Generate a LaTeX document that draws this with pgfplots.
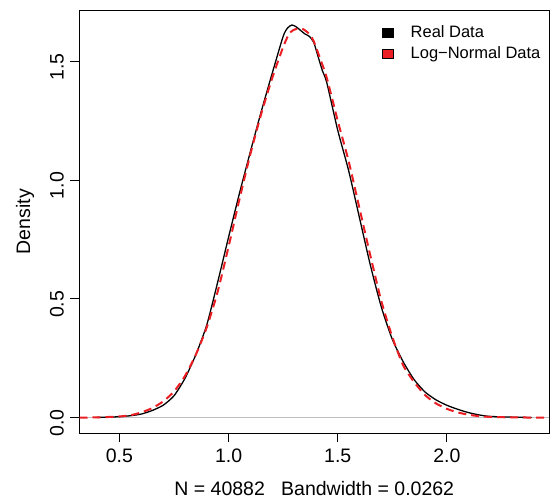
\documentclass[border=0pt]{standalone}
\usepackage{fontspec}
\setmainfont{Liberation Sans}
\usepackage{pgfplots}
\pgfplotsset{compat=1.18}
\definecolor{rred}{RGB}{235,30,35}
\definecolor{zgray}{RGB}{190,190,190}

\begin{document}
\fontsize{19.5}{23}\selectfont
\begin{tikzpicture}
\useasboundingbox (0,0) rectangle (553pt,499pt);
\begin{axis}[
    at={(79.5pt,65.7pt)}, anchor=south west,
    scale only axis, width=469.5pt, height=423.3pt,
    xmin=0.317, xmax=2.468, ymin=-0.066, ymax=1.716,
    axis line style={line width=1pt},
    xtick={0.5,1,1.5,2}, ytick={0,0.5,1,1.5},
    tick pos=left, tick align=outside, major tick length=9pt,
    tick style={black, line width=1pt},
    yticklabel style={rotate=90, anchor=south, xshift=-5.5pt},
    xlabel={N = 40882\ \ \ Bandwidth = 0.0262},
    ylabel={Density},
    every axis x label/.style={at={(axis description cs:0.5,0)}, anchor=base, yshift=-61.7pt},
    every axis y label/.style={at={(axis description cs:0,0.5)}, xshift=-49.5pt, rotate=90, anchor=base},
    legend cell align=left,
    legend style={at={(rel axis cs:0.644,0.969)}, anchor=north west, draw=none, fill=none,
        font=\fontsize{16.5}{19}\selectfont, row sep=2pt, inner sep=0pt,
        /tikz/every odd column/.append style={column sep=15pt}},
    /pgf/number format/fixed, /pgf/number format/fixed zerofill,
    /pgf/number format/precision=1, /pgf/number format/assume math mode=true,
]
\addplot[zgray, line width=1pt, forget plot] coordinates {(0.317,0) (2.468,0)};

% real data density
\addplot[black, line width=1.3pt, smooth, tension=0.4,
    legend image code/.code={\draw[solid, black, fill=black, line width=0.5pt] (0pt,-4.3pt) rectangle (11pt,4.3pt);}]
coordinates {
(0.397,0.001) (0.45,0.002) (0.50,0.004) (0.55,0.008) (0.60,0.015) (0.65,0.030)
(0.70,0.052) (0.75,0.092) (0.80,0.165) (0.85,0.265) (0.90,0.39) (0.95,0.57)
(1.00,0.76) (1.05,0.945) (1.10,1.12) (1.15,1.29) (1.20,1.45) (1.25,1.605)
(1.27,1.64) (1.29,1.653) (1.31,1.645) (1.33,1.63) (1.35,1.615) (1.37,1.605)
(1.39,1.58) (1.41,1.52) (1.43,1.46) (1.45,1.41) (1.50,1.21) (1.55,1.04)
(1.60,0.84) (1.65,0.64) (1.70,0.465) (1.75,0.33) (1.80,0.235) (1.85,0.16)
(1.90,0.108) (1.95,0.075) (2.00,0.052) (2.05,0.035) (2.10,0.021) (2.15,0.011)
(2.20,0.005) (2.30,0.002) (2.388,0.0005)
};
\addlegendentry{Real Data}

% log-normal density
\addplot[rred, line width=2pt, dash pattern=on 8pt off 5pt, smooth, tension=0.4,
    legend image code/.code={\draw[solid, draw=black, fill=rred, line width=0.6pt] (0pt,-4.3pt) rectangle (11pt,4.3pt);}]
coordinates {
(0.317,0.000) (0.40,0.001) (0.50,0.005) (0.55,0.010) (0.60,0.022) (0.65,0.040)
(0.70,0.068) (0.75,0.110) (0.80,0.175) (0.85,0.265) (0.90,0.38) (0.95,0.53)
(1.00,0.72) (1.05,0.92) (1.10,1.11) (1.15,1.28) (1.20,1.43) (1.25,1.56)
(1.28,1.62) (1.31,1.636) (1.34,1.636) (1.37,1.615) (1.39,1.585) (1.42,1.51)
(1.45,1.43) (1.50,1.25) (1.55,1.08) (1.60,0.88) (1.65,0.68) (1.70,0.49)
(1.75,0.34) (1.80,0.22) (1.85,0.15) (1.90,0.095) (1.95,0.060) (2.00,0.037)
(2.05,0.022) (2.10,0.012) (2.15,0.006) (2.20,0.003) (2.30,0.001) (2.468,0.000)
};
\addlegendentry{Log\textminus Normal Data}
\end{axis}
\end{tikzpicture}
\end{document}
